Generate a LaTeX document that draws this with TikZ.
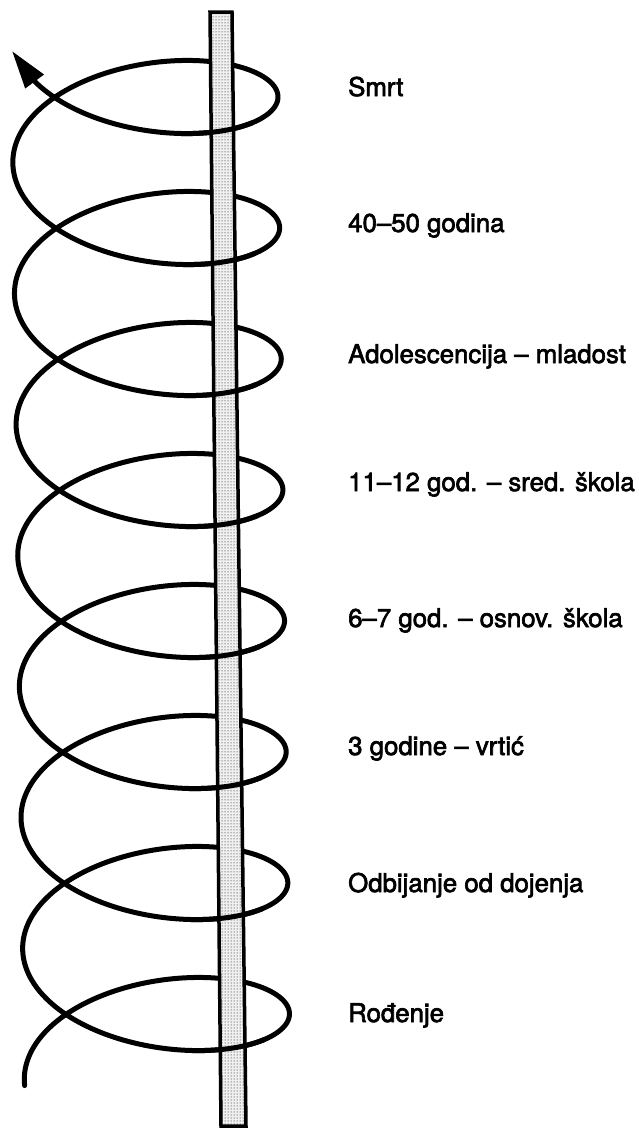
\documentclass[tikz,border=0pt]{standalone}
\usepackage{fontspec}
\setmainfont{TeX Gyre Heros}
\font\labfnt="TeX Gyre Heros:embolden=2.5" at 25.8pt
\usetikzlibrary{arrows.meta,patterns}
\begin{document}
\begin{tikzpicture}[x=1pt,y=-1pt,
  declare function={yb(\a)=97-0.36389*\a;
                    sx(\a)=145+0.0125*(yb(\a)-97)+133*cos(\a);
                    sy(\a)=yb(\a)+66*sin(\a);},
  spiral/.style={line width=5pt,line cap=round,line join=round},
  polestyle/.style={line width=3.5pt,line join=miter},
  lab/.style={anchor=base west,inner sep=0pt,font=\labfnt}]
\useasboundingbox (0,0) rectangle (639,1130);
% helix
\draw[spiral]
  plot[domain=-2704:150,samples=1300,variable=\a] ({sx(\a)},{sy(\a)});
\coordinate (hb) at ({sx(146)},{sy(146)});
\coordinate (tip) at (12,51);
\draw[line width=5pt,-{Triangle[length=38pt,width=22pt]}] (hb) -- (tip);
% pole
\path[fill=black!6] (210,12) -- (232,12) -- (246,1126) -- (221,1126) -- cycle;
\path[pattern=dots,pattern color=black] (210,12) -- (232,12) -- (246,1126) -- (221,1126) -- cycle;
\draw[polestyle] (210,12) -- (232,12) -- (246,1126) -- (221,1126) -- cycle;
% front passes over the pole
\foreach \m in {0,-1,...,-7}{
  \pgfmathsetmacro{\lo}{360*\m+36}
  \pgfmathsetmacro{\hi}{360*\m+74}
  \draw[spiral] plot[domain=\lo:\hi,samples=25,variable=\a] ({sx(\a)},{sy(\a)});
}
% labels
\node[lab] (l1) at (348,96)   {Smrt};
\node[lab] (l2) at (348,232)  {40–50 godina};
\node[lab] (l3) at (348,363)  {Adolescencija – mladost};
\node[lab] (l4) at (348,491)  {11–12 god. – sred. škola};
\node[lab] (l5) at (348,627)  {6–7 god. – osnov. škola};
\node[lab] (l6) at (348,755)  {3 godine – vrtić};
\node[lab] (l7) at (348,892)  {Odbijanje od dojenja};
\node[lab] (l8) at (348,1022) {Rođenje};
\end{tikzpicture}
\end{document}
